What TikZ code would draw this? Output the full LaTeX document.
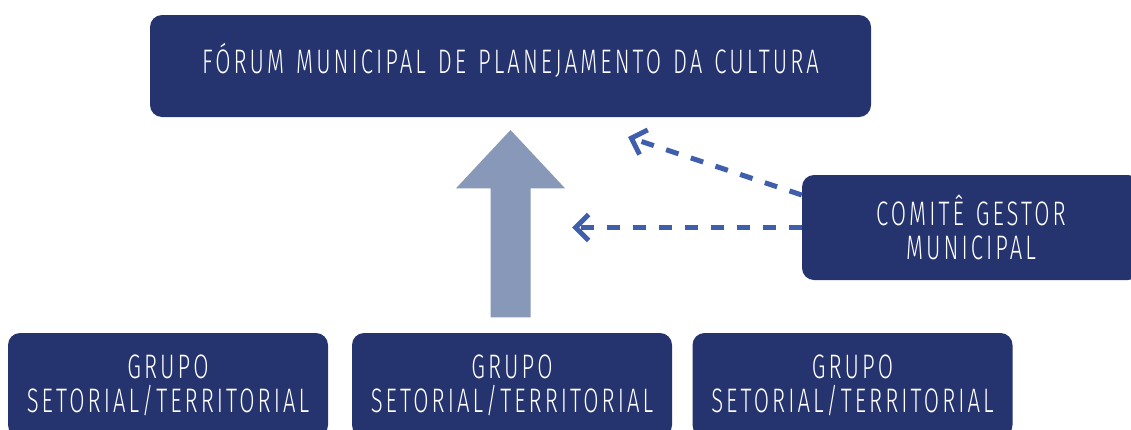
\documentclass[tikz,border=0pt]{standalone}
\usepackage{fontspec}
\setmainfont[FakeStretch=0.65,LetterSpace=9,WordSpace=1.3]{Fira Sans Light}
\usetikzlibrary{arrows.meta}
\definecolor{navy}{HTML}{25336E}
\definecolor{dashblue}{HTML}{3F5FAD}
\definecolor{arrowgray}{HTML}{8898B8}
\tikzset{
  box/.style={fill=navy, rounded corners=12pt, text=white, align=center, inner sep=0pt,
    font=\fontsize{34}{34}\selectfont},
  dasharrow/.style={draw=dashblue, line width=5pt, dash pattern=on 13pt off 13pt,
    -{Straight Barb[length=13pt,width=26pt,line width=5pt]}}
}
\begin{document}
\begin{tikzpicture}[x=1pt,y=-1pt]
\useasboundingbox (0,0) rectangle (1131,429);
\node[box, minimum width=721pt, minimum height=102pt, text height=14pt, text depth=0pt] (forum) at (510.5,66) {FÓRUM MUNICIPAL DE PLANEJAMENTO DA CULTURA};
\node[box, minimum width=338pt, minimum height=105pt] (comite) at (971,227.5) {COMITÊ GESTOR\\MUNICIPAL};
\node[box, minimum width=320pt, minimum height=104pt] (g1) at (168,385) {GRUPO\\SETORIAL/TERRITORIAL};
\node[box, minimum width=320pt, minimum height=104pt] (g2) at (512,385) {GRUPO\\SETORIAL/TERRITORIAL};
\node[box, minimum width=320pt, minimum height=104pt] (g3) at (852.5,385) {GRUPO\\SETORIAL/TERRITORIAL};
\fill[arrowgray] (490.7,317.3) -- (490.7,188.3) -- (456,188.3) -- (510.5,130) -- (565,188.3) -- (530.7,188.3) -- (530.7,317.3) -- cycle;
\coordinate (t1) at (628,137);
\coordinate (t2) at (572,227.5);
\draw[dasharrow] ([yshift=32.5pt]comite.west) -- (t1);
\draw[dasharrow] (comite.west) -- (t2);
\end{tikzpicture}
\end{document}
